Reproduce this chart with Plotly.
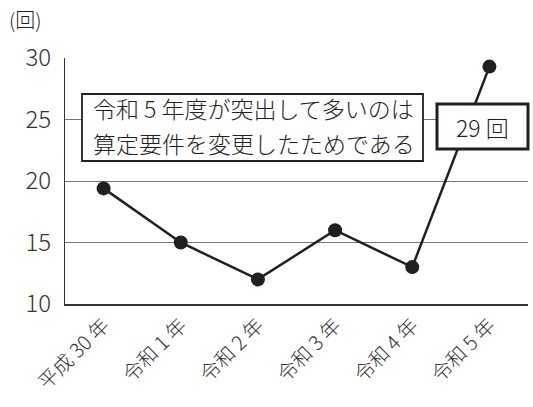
import plotly.graph_objects as go

categories = ["平成 30 年", "令和 1 年", "令和 2 年", "令和 3 年", "令和 4 年", "令和 5 年"]
values = [19.4, 15.0, 12.0, 16.0, 13.0, 29.3]
y_ticks = [10, 15, 20, 25, 30]
note_lines = ["令和 5 年度が突出して多いのは", "算定要件を変更したためである"]
callout = "29 回"
unit = "(回)"

FONT = "Noto Sans CJK JP"
fig = go.Figure()
fig.add_trace(go.Scatter(
    x=categories, y=values, mode="lines+markers",
    line=dict(color="#231f20", width=2.5),
    marker=dict(size=14, color="#231f20"),
    cliponaxis=False, showlegend=False,
))

fig.update_layout(
    width=533, height=407,
    margin=dict(l=65, r=5, t=58, b=103),
    paper_bgcolor="white", plot_bgcolor="white",
    font=dict(family=FONT, color="#333", weight=300),
    xaxis=dict(type="category", range=[-0.5, 5.5], tickangle=-45,
               tickfont=dict(size=20, color="#333", weight=300), showgrid=False,
               showline=True, linecolor="#333", linewidth=1.5, ticks="",
               zeroline=False),
    yaxis=dict(range=[10, 30], tickvals=y_ticks, tickfont=dict(size=24, color="#333", weight=300),
               showgrid=True, gridcolor="#777", gridwidth=1.2,
               showline=True, linecolor="#333", linewidth=1, ticks="",
               ticklabelstandoff=8, zeroline=False),
)

# note box
fig.add_shape(type="rect", xref="paper", yref="paper",
              x0=(82-65)/463, x1=(423-65)/463, y0=(304-161)/246, y1=(304-94)/246,
              line=dict(color="#231f20", width=1.8), fillcolor="white", layer="above")
for i, t in enumerate(note_lines):
    fig.add_annotation(xref="paper", yref="paper", x=(91-65)/463,
                       y=(304-(108+35*i))/246, text=t, showarrow=False,
                       xanchor="left", yanchor="middle",
                       font=dict(size=23, color="#231f20", family=FONT, weight=300))
# callout box
fig.add_shape(type="rect", xref="paper", yref="paper",
              x0=(437-65)/463, x1=(528-65)/463, y0=(304-149)/246, y1=(304-104)/246,
              line=dict(color="#231f20", width=3), fillcolor="white", layer="above")
fig.add_annotation(xref="paper", yref="paper", x=(482.5-65)/463, y=(304-126.5)/246,
                   text=callout, showarrow=False, xanchor="center", yanchor="middle",
                   font=dict(size=23, color="#231f20", family=FONT, weight=300))
fig.add_annotation(xref="paper", yref="paper", x=-58/463, y=(304-19)/246,
                   text=unit, showarrow=False, xanchor="left", yanchor="middle",
                   font=dict(size=20, color="#231f20", family=FONT, weight=300))

fig.write_html("out.html")
